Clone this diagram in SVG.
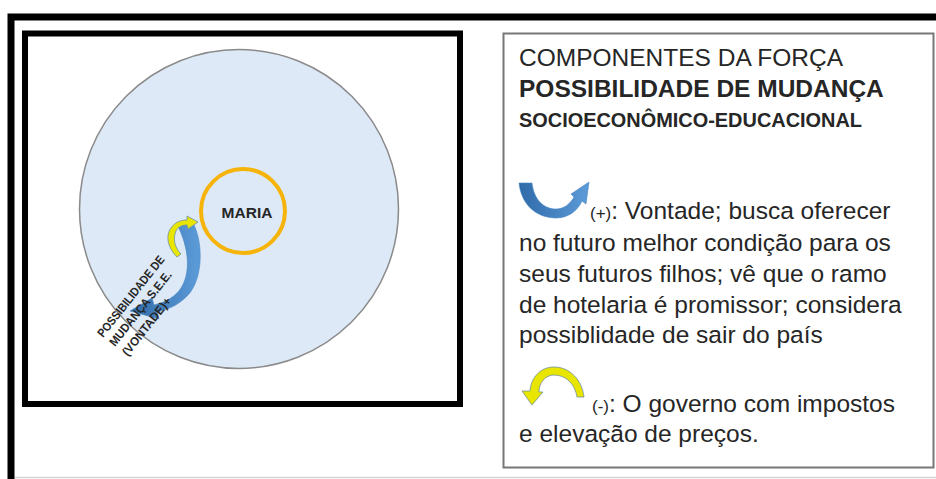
<svg xmlns="http://www.w3.org/2000/svg" width="936" height="479" viewBox="0 0 936 479">
<style>
.t{font-family:"Liberation Sans",Arial,sans-serif;fill:#262626}
.b{font-weight:bold}
.rot{font-family:"Liberation Sans",Arial,sans-serif;font-weight:bold;font-size:12px;fill:#262626}
.yel{fill:#e8e600;stroke:#6f8f9f;stroke-width:0.8}
.blu{fill:url(#gb);stroke:#4a86c5;stroke-width:0.6}
</style>
<defs>
<linearGradient id="gb" x1="0" y1="0" x2="1" y2="0">
<stop offset="0" stop-color="#2f6aa8"/>
<stop offset="1" stop-color="#5c9cd8"/>
</linearGradient>
</defs>
<rect width="936" height="479" fill="#fff"/>
<g id="frame">
<path d="M11,479 L11,17 L936,17" fill="none" stroke="#000" stroke-width="7"/>
<line x1="15" y1="477.5" x2="936" y2="477.5" stroke="#d4d4d4" stroke-width="1.5"/>
</g>
<g id="panel">
<rect x="25" y="33.5" width="435" height="370.5" fill="#fff" stroke="#000" stroke-width="6"/>
</g>
<g id="context">
<circle cx="239" cy="209" r="159.5" fill="#dde9f6" stroke="#8a8a8a" stroke-width="1.5"/>
</g>
<g id="maria">
<circle cx="243" cy="211" r="42" fill="none" stroke="#f6b40a" stroke-width="4"/>
<text class="t b" x="247" y="218" font-size="15.5" text-anchor="middle" fill="#1a1a1a">MARIA</text>
</g>
<g id="connectors">
<path class="blu" d="M177,224 C183,220 190,220 194,225 C203,244 203,277 189,294 C180,304 170,309 157,312 L159,319 L130,311 L152,298 L154,305 C166,302 175,297 181,288 C191,272 189,248 177,224 Z"/>
<path class="yel" d="M177,257 C168,248 165,236 171,228 C175,222 181,220 187,220 L187,216 L198,222 L188,229 L187,225 C182,225 178,227 176,231 C173,238 174,247 181,254 Z"/>
</g>
<g id="force-label">
<g transform="translate(103,338) rotate(-51.5)">
<text class="rot" x="0" y="0" textLength="100" lengthAdjust="spacingAndGlyphs">POSSIBILIDADE DE</text>
<text class="rot" x="0.5" y="15" textLength="92" lengthAdjust="spacingAndGlyphs">MUDANÇA S.E.E.</text>
<text class="rot" x="0.7" y="31" textLength="71" lengthAdjust="spacingAndGlyphs">(VONTADE)+</text>
</g>
</g>
<g id="legend">
<rect x="503.5" y="33.5" width="430" height="434" fill="#fff" stroke="#777" stroke-width="2"/>
<text class="t" x="519" y="66" font-size="24.5">COMPONENTES DA FORÇA</text>
<text class="t b" x="519" y="97" font-size="24.5" fill="#111">POSSIBILIDADE DE MUDANÇA</text>
<text class="t b" x="519" y="127" font-size="19.5" textLength="343" lengthAdjust="spacingAndGlyphs" fill="#1a1a1a">SOCIOECONÔMICO-EDUCACIONAL</text>
<path class="blu" d="M519,183 L532,183 C534,200 544,209 556,209 C564,209 570,204 574,197 L571,194 L589,182 L586,204 L582,201 C577,212 567,218 556,218 C536,218 521,204 519,183 Z"/>
<text class="t" x="590" y="219"><tspan font-size="17">(+)</tspan><tspan font-size="24.5">: Vontade; busca oferecer</tspan></text>
<text class="t" x="519" y="251" font-size="24.5">no futuro melhor condição para os</text>
<text class="t" x="519" y="282" font-size="24.5">seus futuros filhos; vê que o ramo</text>
<text class="t" x="519" y="313" font-size="24.5">de hotelaria é promissor; considera</text>
<text class="t" x="519" y="343" font-size="24.5">possiblidade de sair do país</text>
<path class="yel" d="M584,397 L577,397 C575,384 566,375 554,375 C545,375 539,383 539,392 L543,392 L532,405 L522,391 L530,391 C531,377 541,367 554,367 C570,367 582,380 584,397 Z"/>
<text class="t" x="592" y="412"><tspan font-size="17">(-)</tspan><tspan font-size="24.5">: O governo com impostos</tspan></text>
<text class="t" x="519" y="442" font-size="24.5">e elevação de preços.</text>
</g>
</svg>
